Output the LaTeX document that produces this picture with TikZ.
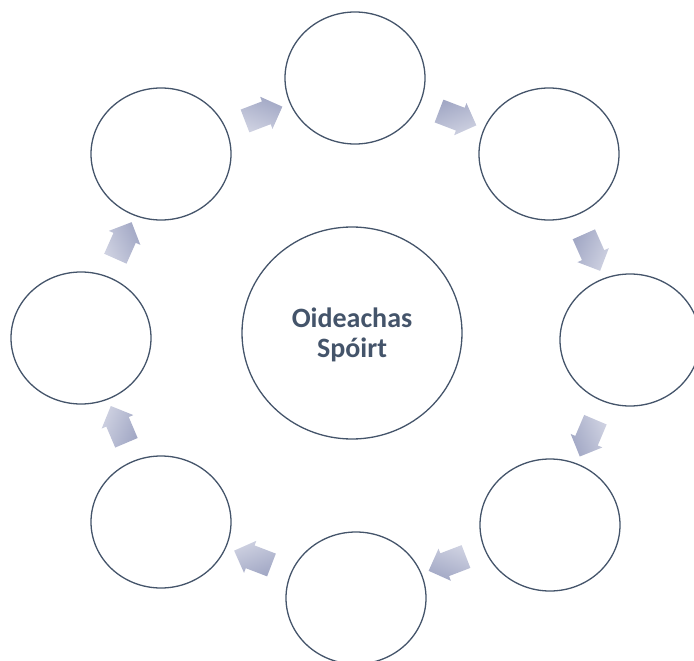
\documentclass[tikz,border=0pt]{standalone}
\usepackage{fontspec}
\setmainfont{Carlito}
\usetikzlibrary{shapes.geometric, shapes.arrows, calc}
\definecolor{pizarra}{HTML}{44546A}
\definecolor{flechaA}{HTML}{A2A8C5}
\definecolor{flechaB}{HTML}{CED1E1}
\begin{document}
\begin{tikzpicture}[x=1pt, y=-1pt,
  main/.style={ellipse, draw=pizarra, line width=1.3pt, minimum width=140pt, minimum height=132pt, inner sep=0pt},
  flecha/.style={single arrow, draw=none, minimum height=40pt, inner xsep=0pt, inner ysep=12pt, single arrow head extend=5pt, top color=flechaA, bottom color=flechaB}]
  \useasboundingbox (0,0) rectangle (694,661);

  % Nodos
  \node[main, minimum width=220pt, minimum height=212pt, text=pizarra, align=center, text depth=0pt,
        font=\bfseries\fontsize{28}{30}\selectfont] (oid) at (352,333) {Oideachas\\Spóirt};
  \node[main] (c1) at (355,78) {};
  \node[main] (c2) at (549,154) {};
  \node[main] (c3) at (630,340) {};
  \node[main] (c4) at (550,525) {};
  \node[main] (c5) at (356,598) {};
  \node[main] (c6) at (161,522) {};
  \node[main] (c7) at (81,338) {};
  \node[main] (c8) at (161,154) {};

  % Flechas (ciclo)
  \foreach \a/\b/\ang [evaluate=\ang as \sang using -\ang] in
      {c8/c1/21, c1/c2/-21, c2/c3/-66, c3/c4/-113, c4/c5/-159, c5/c6/159, c6/c7/113, c7/c8/66}
    \node[flecha, rotate=\ang, shading angle=\sang] (f\a) at ($(\a)!0.5!(\b)$) {};
\end{tikzpicture}
\end{document}
